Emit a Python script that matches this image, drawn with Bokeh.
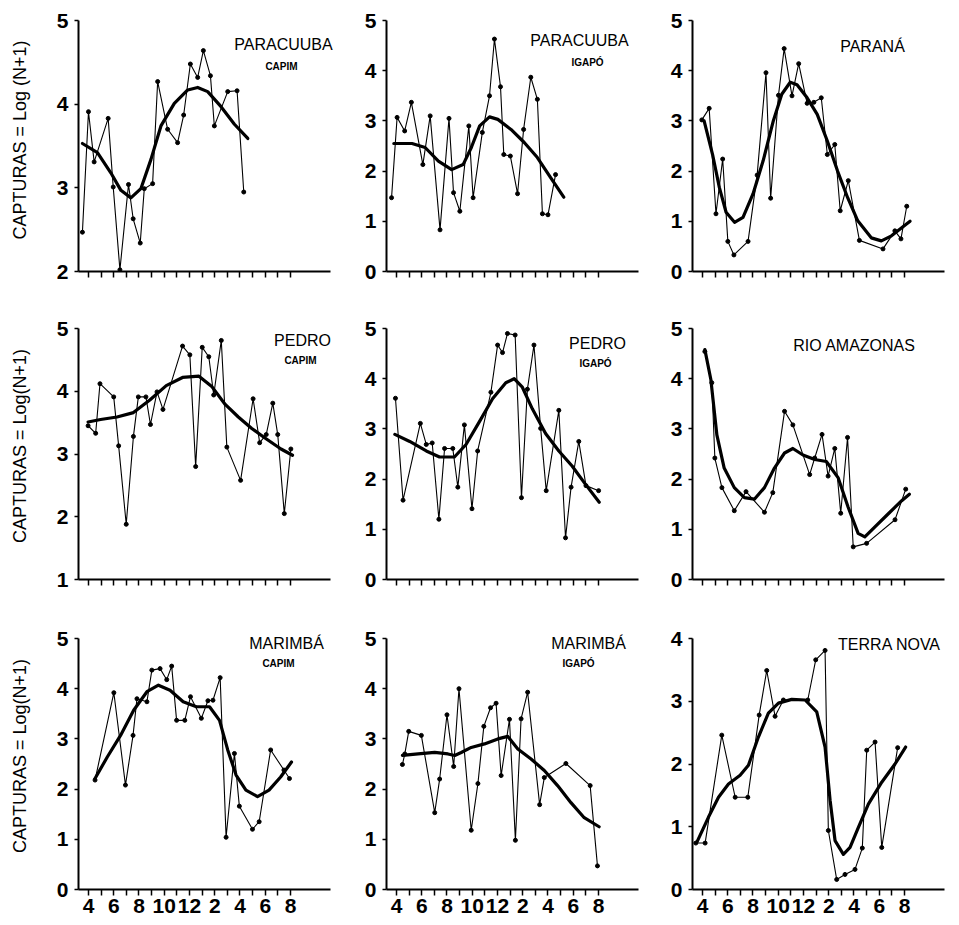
from bokeh.plotting import figure
from bokeh.layouts import column, row
from bokeh.models import FixedTicker, Label
from bokeh.embed import file_html
from bokeh.resources import INLINE

# Month axis: 4 = April (year 1) ... 20 = August (year 2)
month_ticks = list(range(4, 21))
month_tick_labels = ["4", "", "6", "", "8", "", "10", "", "12", "", "2", "", "4", "", "6", "", "8"]

# ---- Panel 1: PARACUUBA / CAPIM ----
p1_raw_m = [3.52, 4.0, 4.45, 5.56, 5.96, 6.49, 7.17, 7.54, 8.10, 8.42, 9.08, 9.48, 10.27, 11.06, 11.54, 12.07, 12.65, 13.10, 13.66, 13.97, 15.03, 15.77, 16.30]
p1_raw_v = [2.47, 3.91, 3.31, 3.83, 3.01, 2.02, 3.04, 2.63, 2.34, 2.99, 3.05, 4.27, 3.70, 3.54, 3.87, 4.48, 4.32, 4.64, 4.34, 3.74, 4.15, 4.16, 2.95]
p1_fit_m = [3.52, 4.71, 5.77, 6.57, 7.36, 8.15, 8.95, 9.74, 10.80, 11.86, 12.65, 13.44, 14.50, 15.56, 16.62]
p1_fit_v = [3.53, 3.42, 3.18, 2.97, 2.88, 2.99, 3.34, 3.74, 4.01, 4.17, 4.20, 4.15, 3.97, 3.76, 3.59]

# ---- Panel 2: PARACUUBA / IGAPÓ ----
p2_raw_m = [3.61, 4.05, 4.65, 5.18, 6.09, 6.67, 7.45, 8.16, 8.52, 9.02, 9.73, 10.07, 10.80, 11.37, 11.76, 12.24, 12.50, 13.02, 13.59, 14.07, 14.64, 15.16, 15.56, 16.00, 16.60]
p2_raw_v = [1.47, 3.07, 2.80, 3.37, 2.13, 3.10, 0.83, 3.05, 1.57, 1.20, 2.90, 1.47, 2.77, 3.50, 4.63, 3.68, 2.33, 2.30, 1.55, 2.83, 3.87, 3.43, 1.15, 1.13, 1.93]
p2_fit_m = [3.79, 5.23, 6.27, 7.32, 8.37, 9.28, 9.93, 10.59, 11.37, 12.03, 13.07, 14.12, 15.16, 16.21, 17.25]
p2_fit_v = [2.55, 2.55, 2.47, 2.20, 2.03, 2.13, 2.47, 2.90, 3.08, 3.03, 2.83, 2.57, 2.27, 1.87, 1.48]

# ---- Panel 3: PARANÁ ----
p3_raw_m = [3.95, 4.53, 5.07, 5.60, 6.01, 6.49, 7.61, 8.33, 9.03, 9.40, 10.02, 10.47, 11.09, 11.62, 12.29, 12.82, 13.41, 13.89, 14.48, 14.91, 15.55, 16.43, 18.30, 19.24, 19.72, 20.18]
p3_raw_v = [3.02, 3.25, 1.15, 2.24, 0.60, 0.33, 0.60, 1.92, 3.96, 1.46, 3.51, 4.44, 3.50, 4.14, 3.35, 3.37, 3.46, 2.33, 2.53, 1.21, 1.81, 0.62, 0.45, 0.81, 0.65, 1.30]
p3_fit_m = [4.13, 4.80, 5.34, 5.87, 6.54, 7.21, 8.01, 8.81, 9.61, 10.28, 10.95, 11.49, 12.29, 13.09, 13.89, 14.70, 15.50, 16.30, 17.37, 18.17, 18.97, 19.78, 20.44]
p3_fit_v = [3.0, 2.33, 1.67, 1.18, 0.98, 1.08, 1.55, 2.21, 3.0, 3.53, 3.77, 3.72, 3.46, 3.13, 2.60, 2.0, 1.47, 1.01, 0.67, 0.61, 0.71, 0.87, 1.0]

# ---- Panel 4: PEDRO / CAPIM ----
p4_raw_m = [3.97, 4.57, 4.91, 6.0, 6.39, 6.99, 7.56, 7.95, 8.55, 8.91, 9.43, 9.90, 11.45, 12.03, 12.49, 13.01, 13.53, 13.92, 14.52, 14.96, 16.05, 17.04, 17.56, 18.08, 18.60, 18.99, 19.51, 20.03]
p4_raw_v = [3.45, 3.33, 4.12, 3.91, 3.13, 1.88, 3.28, 3.91, 3.91, 3.47, 3.99, 3.71, 4.72, 4.58, 2.80, 4.70, 4.55, 3.94, 4.81, 3.11, 2.58, 3.88, 3.18, 3.31, 3.81, 3.31, 2.05, 3.08]
p4_fit_m = [3.97, 4.96, 6.26, 7.56, 8.86, 10.16, 11.45, 12.75, 13.79, 14.83, 15.87, 16.91, 17.95, 19.25, 20.16]
p4_fit_v = [3.51, 3.55, 3.59, 3.66, 3.86, 4.09, 4.22, 4.24, 4.07, 3.79, 3.59, 3.41, 3.26, 3.08, 2.98]

# ---- Panel 5: PEDRO / IGAPÓ ----
p5_raw_m = [3.92, 4.52, 5.89, 6.36, 6.83, 7.36, 7.81, 8.46, 8.86, 9.38, 9.98, 10.43, 11.48, 12.01, 12.40, 12.79, 13.40, 13.90, 14.37, 14.89, 15.42, 15.86, 16.86, 17.39, 17.83, 18.44, 19.01, 20.01]
p5_raw_v = [3.61, 1.58, 3.11, 2.69, 2.72, 1.20, 2.61, 2.61, 1.84, 3.08, 1.41, 2.56, 3.73, 4.67, 4.52, 4.90, 4.87, 1.63, 3.79, 4.67, 3.01, 1.77, 3.37, 0.83, 1.84, 2.75, 1.87, 1.77]
p5_fit_m = [3.87, 5.05, 6.36, 7.41, 8.59, 9.51, 10.56, 11.61, 12.66, 13.32, 13.97, 14.76, 15.81, 16.86, 17.91, 18.96, 20.06]
p5_fit_v = [2.89, 2.75, 2.56, 2.44, 2.44, 2.69, 3.14, 3.60, 3.92, 4.0, 3.83, 3.40, 2.91, 2.56, 2.26, 1.90, 1.54]

# ---- Panel 6: RIO AMAZONAS ----
p6_raw_m = [4.19, 4.74, 4.98, 5.54, 6.52, 7.45, 8.91, 9.57, 10.50, 11.16, 12.49, 12.89, 13.47, 13.95, 14.48, 14.95, 15.49, 15.94, 17.00, 19.25, 20.10]
p6_raw_v = [4.54, 3.92, 2.42, 1.83, 1.37, 1.75, 1.34, 1.73, 3.35, 3.08, 2.09, 2.42, 2.89, 2.06, 2.61, 1.32, 2.83, 0.65, 0.72, 1.19, 1.80]
p6_fit_m = [4.19, 4.66, 5.14, 5.72, 6.52, 7.32, 8.11, 8.91, 9.70, 10.50, 11.16, 11.96, 12.89, 13.81, 14.74, 15.54, 16.33, 16.86, 17.66, 18.72, 19.78, 20.39]
p6_fit_v = [4.58, 3.99, 2.88, 2.22, 1.83, 1.63, 1.60, 1.83, 2.22, 2.52, 2.61, 2.48, 2.39, 2.35, 2.03, 1.44, 0.92, 0.85, 1.05, 1.31, 1.57, 1.70]

# ---- Panel 7: MARIMBÁ / CAPIM ----
p7_raw_m = [4.52, 6.01, 6.93, 7.53, 7.84, 8.63, 9.02, 9.67, 10.20, 10.59, 10.98, 11.63, 12.08, 12.94, 13.46, 13.86, 14.43, 14.90, 15.56, 15.95, 16.99, 17.52, 18.43, 19.48, 19.92]
p7_raw_v = [2.18, 3.92, 2.08, 3.07, 3.80, 3.74, 4.37, 4.40, 4.18, 4.45, 3.37, 3.37, 3.84, 3.41, 3.76, 3.77, 4.22, 1.04, 2.71, 1.66, 1.20, 1.35, 2.78, 2.38, 2.21]
p7_fit_m = [4.52, 5.49, 6.54, 7.58, 8.63, 9.54, 10.46, 11.50, 12.55, 13.59, 14.38, 15.03, 15.69, 16.47, 17.39, 18.30, 19.22, 20.08]
p7_fit_v = [2.21, 2.64, 3.07, 3.57, 3.94, 4.07, 3.97, 3.74, 3.64, 3.64, 3.37, 2.78, 2.28, 1.98, 1.85, 1.98, 2.24, 2.54]

# ---- Panel 8: MARIMBÁ / IGAPÓ ----
p8_raw_m = [4.47, 4.66, 4.97, 5.97, 7.03, 7.42, 8.0, 8.53, 8.95, 9.92, 10.45, 10.92, 11.45, 11.89, 12.29, 12.95, 13.42, 13.87, 14.39, 15.34, 15.71, 17.42, 19.34, 19.92]
p8_raw_v = [2.49, 2.70, 3.15, 3.07, 1.53, 2.20, 3.48, 2.45, 4.0, 1.18, 2.11, 3.25, 3.62, 3.71, 2.27, 3.39, 0.98, 3.40, 3.93, 1.69, 2.23, 2.51, 2.07, 0.47]
p8_fit_m = [4.47, 5.71, 7.03, 8.08, 8.61, 9.13, 9.92, 10.97, 12.03, 12.82, 13.61, 14.66, 15.71, 16.76, 17.82, 18.87, 20.05]
p8_fit_v = [2.67, 2.70, 2.73, 2.70, 2.67, 2.73, 2.83, 2.90, 3.0, 3.05, 2.80, 2.60, 2.37, 2.07, 1.73, 1.43, 1.25]

# ---- Panel 9: TERRA NOVA ----
p9_raw_m = [3.47, 4.21, 5.53, 6.59, 7.59, 8.49, 9.09, 9.75, 10.41, 12.34, 12.97, 13.71, 13.97, 14.63, 15.29, 16.08, 16.66, 17.01, 17.67, 18.20, 19.46]
p9_raw_v = [0.74, 0.74, 2.46, 1.47, 1.47, 2.78, 3.49, 2.76, 3.02, 3.02, 3.66, 3.81, 0.94, 0.16, 0.24, 0.32, 0.66, 2.22, 2.35, 0.67, 2.26]
p9_fit_m = [3.55, 4.47, 5.27, 6.06, 6.98, 7.64, 8.43, 9.22, 10.02, 11.07, 12.13, 13.05, 13.71, 14.11, 14.50, 15.16, 15.69, 16.35, 17.14, 18.20, 19.25, 20.09]
p9_fit_v = [0.75, 1.15, 1.47, 1.68, 1.82, 1.98, 2.43, 2.81, 2.97, 3.03, 3.02, 2.83, 2.27, 1.42, 0.78, 0.56, 0.67, 0.99, 1.36, 1.71, 2.0, 2.27]

YLABEL_1 = "CAPTURAS = Log (N+1)"
YLABEL_2 = "CAPTURAS = Log(N+1)"

X0, X1 = 3.21, 23.17      # extent of the drawn x axis
FW, FH = 252, 251         # pixel extent of the drawn axes
FONT = "Liberation Sans"


def panel(raw_m, raw_v, fit_m, fit_v, ymin, ymax, title, subtitle,
          t_dx, t_dy, s_dx, s_dy, borders, ylabel=None, xlabels=False):
    # borders: left, extra right (inside frame), right, extra top (inside frame), top, bottom
    left, er, right, et, top, bottom = borders
    xs = FW / (X1 - X0)
    ys = FH / (ymax - ymin)
    p = figure(frame_width=FW + er, frame_height=FH + et,
               x_range=(X0, X1 + er / xs), y_range=(ymin, ymax + et / ys),
               output_backend="svg", toolbar_location=None,
               min_border_left=left, min_border_right=right,
               min_border_top=top, min_border_bottom=bottom)
    p.outline_line_color = None
    p.xgrid.visible = False
    p.ygrid.visible = False

    xa = p.xaxis[0]
    ya = p.yaxis[0]
    xa.bounds = (X0, X1)
    xa.ticker = FixedTicker(ticks=month_ticks)
    labs = month_tick_labels if xlabels else [""] * len(month_ticks)
    xa.major_label_overrides = {t: l for t, l in zip(month_ticks, labs)}
    xa.axis_line_width = 2
    xa.axis_line_color = "black"
    xa.major_tick_in = 0
    xa.major_tick_out = 6
    xa.major_tick_line_width = 1.5
    xa.minor_tick_line_color = None
    xa.major_label_standoff = 3
    xa.major_label_text_font = FONT
    xa.major_label_text_font_size = "21px"
    xa.major_label_text_font_style = "bold"
    xa.major_label_text_color = "black"

    ya.bounds = (ymin, ymax)
    ya.ticker = FixedTicker(ticks=list(range(ymin, ymax + 1)))
    ya.axis_line_width = 2
    ya.axis_line_color = "black"
    ya.major_tick_in = 0
    ya.major_tick_out = 4
    ya.major_tick_line_width = 1.5
    ya.minor_tick_line_color = None
    ya.major_label_standoff = 6
    ya.major_label_text_font = FONT
    ya.major_label_text_font_size = "21px"
    ya.major_label_text_font_style = "bold"
    ya.major_label_text_color = "black"
    if ylabel:
        ya.axis_label = ylabel
        ya.axis_label_text_font = FONT
        ya.axis_label_text_font_size = "18px"
        ya.axis_label_text_font_style = "normal"
        ya.axis_label_text_color = "black"
        ya.axis_label_standoff = 24

    p.line(raw_m, raw_v, line_color="black", line_width=1.1)
    p.scatter(raw_m, raw_v, size=4, fill_color="black", line_color="black")
    p.line(fit_m, fit_v, line_color="black", line_width=3.2, line_join="round", line_cap="round")

    p.add_layout(Label(x=X0 + t_dx / xs, y=ymax - t_dy / ys, text=title,
                       text_align="center", text_baseline="middle",
                       text_font=FONT, text_font_size="16px", text_color="black"))
    if subtitle:
        p.add_layout(Label(x=X0 + s_dx / xs, y=ymax - s_dy / ys, text=subtitle,
                           text_align="center", text_baseline="middle",
                           text_font=FONT, text_font_size="10px", text_font_style="bold",
                           text_color="black"))
    return p


#        left, extra-right, right, extra-top, top, bottom
B1 = (78, 12, 12, 12, 8, 28)
B2 = (32, 12, 10, 12, 8, 28)
B3 = (32, 10, 2, 12, 8, 28)
B1m = (78, 12, 12, 16, 13, 28)
B2m = (32, 12, 10, 16, 13, 28)
B3m = (32, 10, 2, 16, 13, 28)
B1b = (78, 12, 12, 16, 15, 30)
B2b = (32, 12, 10, 16, 15, 30)
B3b = (32, 10, 2, 16, 15, 30)

f1 = panel(p1_raw_m, p1_raw_v, p1_fit_m, p1_fit_v, 2, 5, "PARACUUBA", "CAPIM", 205, 24, 203, 46, B1, ylabel=YLABEL_1)
f2 = panel(p2_raw_m, p2_raw_v, p2_fit_m, p2_fit_v, 0, 5, "PARACUUBA", "IGAPÓ", 193, 20, 201, 42, B2)
f3 = panel(p3_raw_m, p3_raw_v, p3_fit_m, p3_fit_v, 0, 5, "PARANÁ", None, 180, 26, 0, 0, B3)
f4 = panel(p4_raw_m, p4_raw_v, p4_fit_m, p4_fit_v, 1, 5, "PEDRO", "CAPIM", 224, 12, 222, 32, B1m, ylabel=YLABEL_2)
f5 = panel(p5_raw_m, p5_raw_v, p5_fit_m, p5_fit_v, 0, 5, "PEDRO", "IGAPÓ", 211, 15, 209, 35, B2m)
f6 = panel(p6_raw_m, p6_raw_v, p6_fit_m, p6_fit_v, 0, 5, "RIO AMAZONAS", None, 162, 17, 0, 0, B3m)
f7 = panel(p7_raw_m, p7_raw_v, p7_fit_m, p7_fit_v, 0, 5, "MARIMBÁ", "CAPIM", 208, 5, 200, 25, B1b, ylabel=YLABEL_2, xlabels=True)
f8 = panel(p8_raw_m, p8_raw_v, p8_fit_m, p8_fit_v, 0, 5, "MARIMBÁ", "IGAPÓ", 202, 5, 192, 25, B2b, xlabels=True)
f9 = panel(p9_raw_m, p9_raw_v, p9_fit_m, p9_fit_v, 0, 4, "TERRA NOVA", None, 197, 6, 0, 0, B3b, xlabels=True)

layout = column(row(f1, f2, f3), row(f4, f5, f6), row(f7, f8, f9))

open("out.html", "w").write(file_html(layout, INLINE))
